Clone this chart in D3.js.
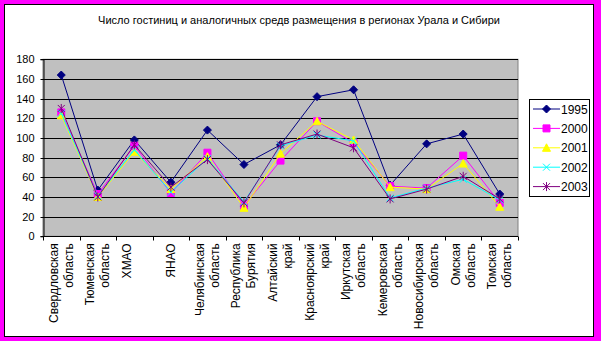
<!DOCTYPE html>
<html>
<head>
<meta charset="utf-8">
<script src="https://cdn.jsdelivr.net/npm/d3@7/dist/d3.min.js"></script>
<style>
  html, body { margin: 0; padding: 0; background: #fff; }
  svg { display: block; font-family: "Liberation Sans", Arial, sans-serif; }
</style>
</head>
<body>
<svg id="chart" width="601" height="341"></svg>
<script>
// Regions (each label split into its printed lines)
const regions = [
  ["Свердловская", "область"],
  ["Тюменская", "область"],
  ["ХМАО", ""],
  ["ЯНАО"],
  ["Челябинская", "область"],
  ["Республика", "Бурятия"],
  ["Алтайский", "край"],
  ["Красноярский", "край"],
  ["Иркутская", "область"],
  ["Кемеровская", "область"],
  ["Новосибирская", "область"],
  ["Омская", "область"],
  ["Томская", "область"]
];

// Number of hotels per year
const years = ["1995", "2000", "2001", "2002", "2003"];
const v1995 = [164, 47, 98, 55, 108, 73, 93, 142, 149, 52, 94, 104, 43];
const v2000 = [126, 43, 92, 44, 85, 31, 77, 117, 95, 51, 49, 82, 34];
const v2001 = [123, 40, 86, 48, 81, 29, 84, 117, 98, 50, 48, 74, 30];
const v2002 = [125, 41, 88, 45, 79, 35, 92, 103, 97, 39, 49, 58, 37];
const v2003 = [130, 40, 93, 50, 78, 34, 93, 104, 90, 38, 48, 61, 38];
const yTicks = [0, 20, 40, 60, 80, 100, 120, 140, 160, 180];

const seriesValues = [v1995, v2000, v2001, v2002, v2003];
const colors = ["#000080", "#FF00FF", "#FFFF00", "#00FFFF", "#800080"];
const markers = ["diamond", "square", "triangle", "cross", "star"];

const svg = d3.select("#chart");

// Frame: magenta outer band, thin black edge, white chart area
svg.append("rect").attr("x", 0).attr("y", 0).attr("width", 601).attr("height", 341).attr("fill", "#FF00FF");
svg.append("rect").attr("x", 4.5).attr("y", 4.5).attr("width", 589).attr("height", 332)
  .attr("fill", "#fff").attr("stroke", "#000").attr("stroke-width", 1);

// Title
svg.append("text").attr("x", 299).attr("y", 24).attr("text-anchor", "middle")
  .attr("font-size", 11).attr("fill", "#000")
  .text("Число гостиниц и аналогичных средв размещения в регионах Урала и Сибири");

const plotLeft = 43, plotRight = 518, plotTop = 59.3, plotBottom = 236.3;
const x = d3.scaleBand().domain(d3.range(regions.length)).range([plotLeft, plotRight]).padding(0);
const cx = i => x(i) + x.bandwidth() / 2;
const y = d3.scaleLinear().domain([0, 180]).range([plotBottom, plotTop]);

// Plot area
svg.append("rect").attr("x", plotLeft).attr("y", plotTop).attr("width", plotRight - plotLeft).attr("height", plotBottom - plotTop)
  .attr("fill", "#C0C0C0").attr("stroke", "#808080").attr("stroke-width", 1);

// Grid lines
svg.append("g").selectAll("line").data(yTicks.filter(t => t > 0)).join("line")
  .attr("x1", plotLeft).attr("x2", plotRight)
  .attr("y1", d => Math.round(y(d)) + 0.5).attr("y2", d => Math.round(y(d)) + 0.5)
  .attr("stroke", "#000").attr("stroke-width", 1);

// Y axis
const yAxis = d3.axisLeft(y).tickValues(yTicks).tickSize(3).tickPadding(6);
const gy = svg.append("g").attr("transform", `translate(${plotLeft + 0.5},0)`).call(yAxis);
gy.selectAll("text").attr("font-size", 11).attr("fill", "#000").attr("font-family", "Liberation Sans, Arial, sans-serif");
gy.selectAll("line").attr("stroke", "#000");
gy.select(".domain").attr("stroke", "#000");
gy.selectAll(".tick").attr("transform", d => `translate(0,${Math.round(y(d)) + 0.5})`);

// X axis: ticks at band boundaries
const gx = svg.append("g").attr("transform", `translate(0,${Math.round(plotBottom) + 0.5})`);
gx.append("line").attr("x1", plotLeft).attr("x2", plotRight).attr("stroke", "#000");
gx.selectAll("line.tk").data(d3.range(regions.length + 1)).join("line").attr("class", "tk")
  .attr("x1", i => Math.round(plotLeft + i * x.bandwidth()) + 0.5)
  .attr("x2", i => Math.round(plotLeft + i * x.bandwidth()) + 0.5)
  .attr("y1", 0).attr("y2", 4).attr("stroke", "#000");

// Category labels, rotated, wrapped lines
const lineH = 15;
regions.forEach((lines, i) => {
  const n = lines.length;
  lines.forEach((ln, k) => {
    if (!ln) return;
    const off = (k - (n - 1) / 2) * lineH;
    const bx = cx(i) + off + 4;
    svg.append("text")
      .attr("transform", `translate(${bx},${plotBottom + 7}) rotate(-90)`)
      .attr("text-anchor", "end").attr("font-size", 12).attr("fill", "#000")
      .text(ln);
  });
});

// Marker shapes
function markerPath(type) {
  switch (type) {
    case "diamond": return "M0,-4L4,0L0,4L-4,0Z";
    case "square": return "M-3.5,-3.5H3.5V3.5H-3.5Z";
    case "triangle": return "M0,-4L4,3.5H-4Z";
    case "cross": return "M-3.5,-3.5L3.5,3.5M-3.5,3.5L3.5,-3.5";
    case "star": return "M-3.5,-3.5L3.5,3.5M-3.5,3.5L3.5,-3.5M0,-4.5V4.5";
  }
}
function drawMarker(g, type, color, px, py) {
  const filled = type === "diamond" || type === "square" || type === "triangle";
  g.append("path").attr("d", markerPath(type)).attr("transform", `translate(${px},${py})`)
    .attr("fill", filled ? color : "none").attr("stroke", color).attr("stroke-width", 1);
}

const line = d3.line().x((d, i) => cx(i)).y(d => y(d));
seriesValues.forEach((vals, s) => {
  const g = svg.append("g");
  g.append("path").datum(vals).attr("d", line).attr("fill", "none")
    .attr("stroke", colors[s]).attr("stroke-width", 1);
  vals.forEach((v, i) => drawMarker(g, markers[s], colors[s], cx(i), y(v)));
});

// Legend
const lg = svg.append("g");
lg.append("rect").attr("x", 529.5).attr("y", 99.5).attr("width", 60).attr("height", 97)
  .attr("fill", "#fff").attr("stroke", "#000");
years.forEach((yr, s) => {
  const ly = 109 + s * 19.4;
  lg.append("line").attr("x1", 533).attr("x2", 560).attr("y1", ly).attr("y2", ly)
    .attr("stroke", colors[s]).attr("stroke-width", 1);
  drawMarker(lg, markers[s], colors[s], 546.5, ly);
  lg.append("text").attr("x", 561).attr("y", ly + 4.5).attr("font-size", 12).attr("fill", "#000").text(yr);
});
</script>
</body>
</html>
